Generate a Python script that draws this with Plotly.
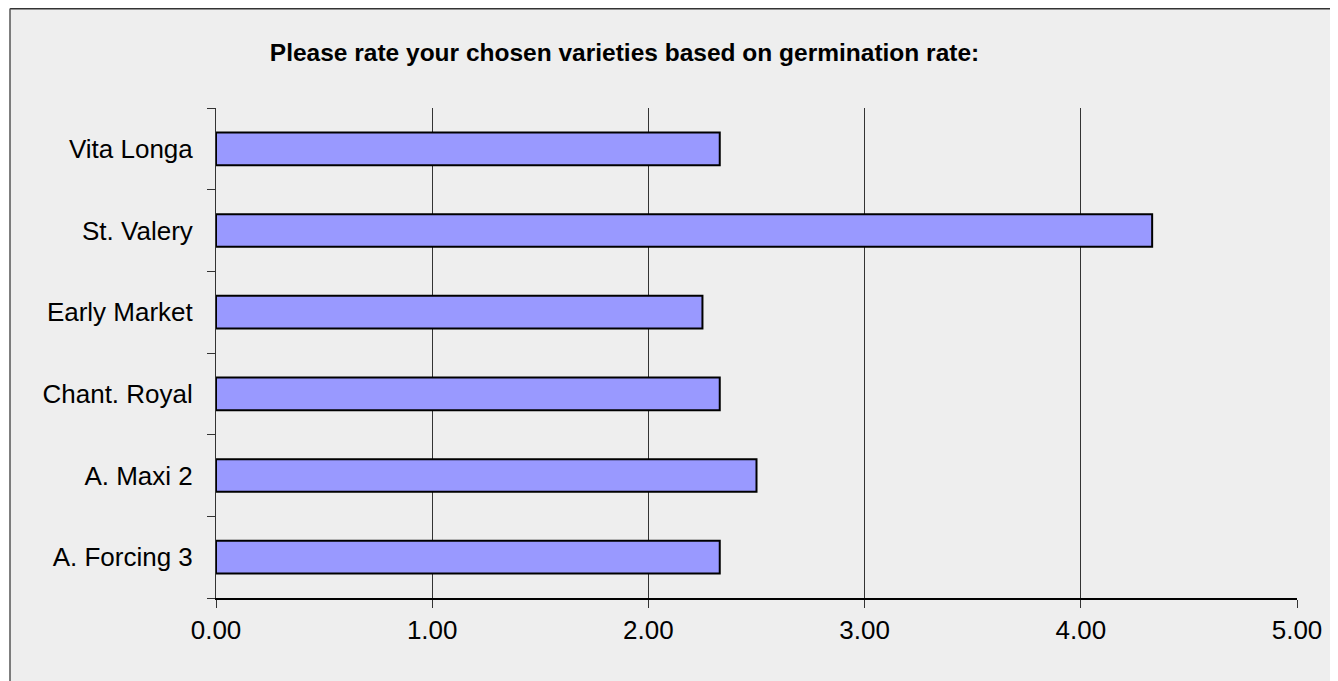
import plotly.graph_objects as go

categories = ["A. Forcing 3", "A. Maxi 2", "Chant. Royal", "Early Market", "St. Valery", "Vita Longa"]
values = [2.33, 2.50, 2.33, 2.25, 4.33, 2.33]
x_tickvals = [0, 1, 2, 3, 4, 5]
x_ticktext = ["0.00", "1.00", "2.00", "3.00", "4.00", "5.00"]
title_text = "Please rate your chosen varieties based on germination rate:"

# page has an 8px body margin; figure sized to fit the 1338x681 window
OFF = 8
W, H = 1338 - OFF, 681 - OFF
L, R, T, B = 216 - OFF, 41, 108 - OFF, 83
pw, ph = W - L - R, H - T - B

def px_x(p):
    # p: page pixel
    return (p - OFF - L) / pw

def px_y(p):
    return 1 + (T - (p - OFF)) / ph

fig = go.Figure()
fig.add_trace(go.Bar(
    y=categories, x=values, orientation="h",
    marker=dict(color="#9999ff", line=dict(color="#000000", width=2)),
    hoverinfo="x+y",
))

font_family = "Liberation Sans, Arial, sans-serif"

fig.update_layout(
    width=W, height=H,
    margin=dict(l=L, r=R, t=T, b=B, pad=0),
    paper_bgcolor="#ffffff",
    plot_bgcolor="rgba(0,0,0,0)",
    bargap=0.6,
    showlegend=False,
    font=dict(family=font_family, size=26, color="#000000"),
    title=dict(
        text=title_text,
        x=(624.5 - OFF) / W, xref="container", xanchor="center",
        y=1 - (52 - OFF) / H, yref="container", yanchor="middle",
        font=dict(family=font_family, size=24.5, color="#000000", weight="bold"),
    ),
    xaxis=dict(
        range=[0, 5], tickvals=x_tickvals, ticktext=x_ticktext,
        showgrid=True, gridcolor="#333333", gridwidth=1,
        zeroline=False,
        showline=True, linecolor="#000000", linewidth=1.5,
        ticks="outside", ticklen=8, tickcolor="#333333", tickwidth=1,
        tickfont=dict(size=26),
        fixedrange=True,
    ),
    yaxis=dict(
        range=[-0.5, 5.5],
        categoryorder="array", categoryarray=categories,
        showgrid=False, zeroline=False,
        showline=True, linecolor="#333333", linewidth=1,
        ticks="outside", tickson="boundaries", ticklen=8, tickcolor="#333333",
        tickfont=dict(size=26),
        ticklabelstandoff=17,
        fixedrange=True,
    ),
    shapes=[
        dict(type="rect", xref="paper", yref="paper",
             x0=px_x(10), x1=1.2, y0=-0.4, y1=px_y(8.5),
             fillcolor="#eeeeee", line=dict(width=0), layer="below"),
        dict(type="line", xref="paper", yref="paper",
             x0=px_x(10), x1=1.2, y0=px_y(8.7), y1=px_y(8.7),
             line=dict(color="#333333", width=1.5), layer="above"),
        dict(type="line", xref="paper", yref="paper",
             x0=px_x(10), x1=px_x(10), y0=-0.4, y1=px_y(8.5),
             line=dict(color="#555555", width=1.5), layer="above"),
    ],
)

fig.write_html("out.html")
